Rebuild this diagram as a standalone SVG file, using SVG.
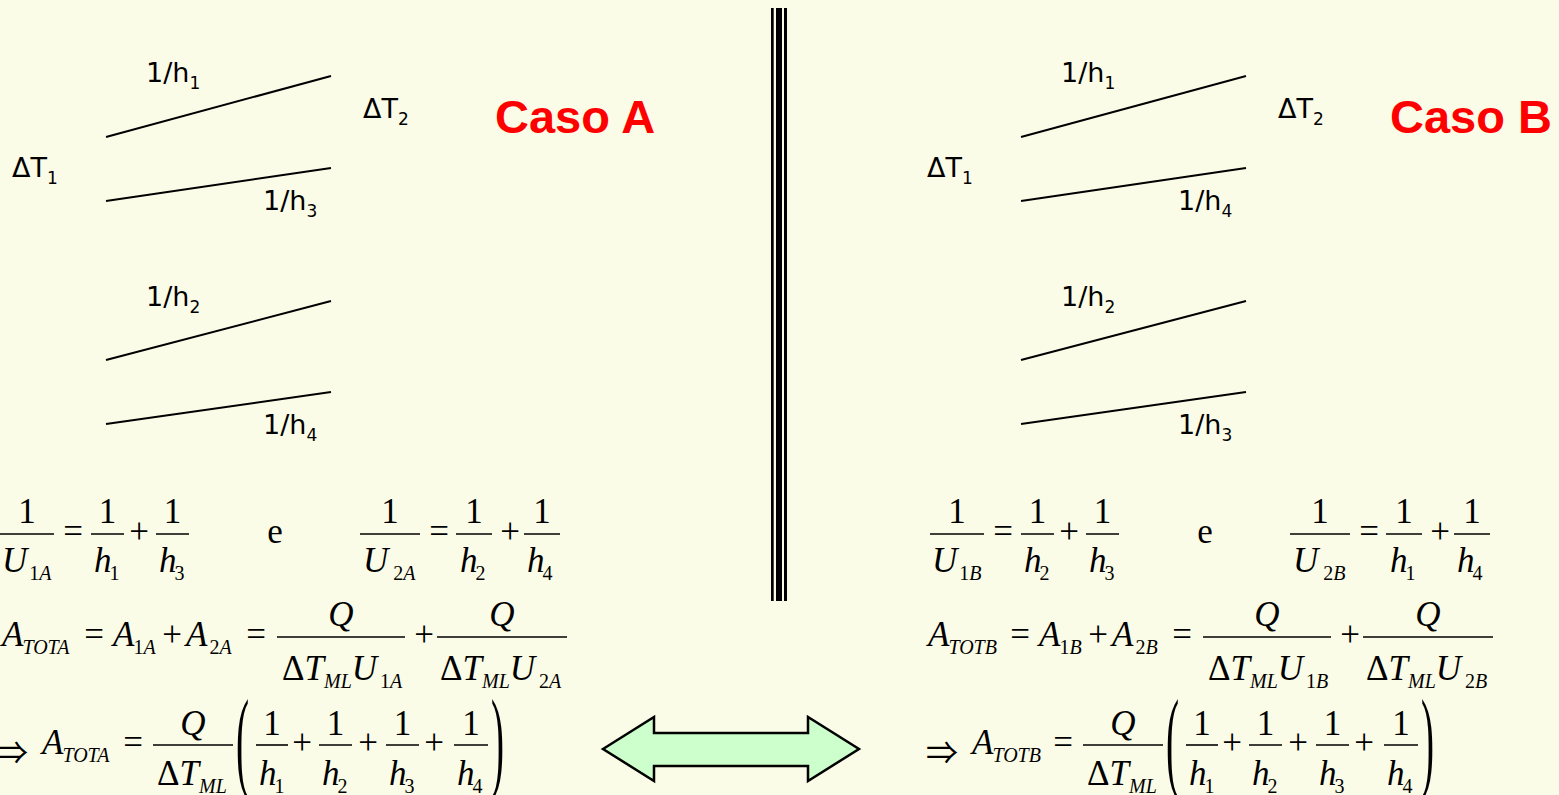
<svg xmlns="http://www.w3.org/2000/svg" width="1559" height="795" viewBox="0 0 1559 795">
<style>
.ln{stroke:#000;stroke-width:2;fill:none;stroke-linecap:butt}
.lb{font-family:"DejaVu Sans",Verdana,sans-serif;font-size:27px;fill:#000}
.ls{font-size:17px}
.cs{font-family:"Liberation Sans",Arial,sans-serif;font-weight:bold;font-size:47px;fill:#FF0000}
.m{font-family:"Liberation Serif","Times New Roman","DejaVu Serif",serif;font-size:35px;fill:#000}
.ar{font-family:"Noto Sans CJK JP","DejaVu Sans",sans-serif;font-size:32px;fill:#000}
.c{text-anchor:middle}
.i{font-style:italic}
.up{font-style:normal}
.s{font-size:20px}
.fb{stroke:#000;stroke-width:1.6}
.par{font-family:"Liberation Serif","Times New Roman",serif;font-size:34px;fill:#000}
</style>
<rect width="1559" height="795" fill="#FBFCE7"/>

<g id="separator" fill="#000">
<rect x="771" y="8" width="2.7" height="593"/>
<rect x="776" y="8" width="6" height="593"/>
<rect x="784" y="8" width="3" height="593"/>
</g>

<g id="connectors">
<line class="ln" x1="106" y1="137" x2="331" y2="76"/>
<line class="ln" x1="106" y1="201" x2="331" y2="168"/>
<line class="ln" x1="106" y1="360" x2="331" y2="301"/>
<line class="ln" x1="106" y1="424" x2="331" y2="392"/>
<line class="ln" x1="1021" y1="137" x2="1246" y2="76"/>
<line class="ln" x1="1021" y1="201" x2="1246" y2="168"/>
<line class="ln" x1="1021" y1="360" x2="1246" y2="301"/>
<line class="ln" x1="1021" y1="424" x2="1246" y2="392"/>
</g>

<g id="labelsA">
<text class="lb" x="146" y="82">1/h<tspan class="ls" dy="7">1</tspan></text>
<text class="lb" x="363" y="118">ΔT<tspan class="ls" dy="7">2</tspan></text>
<text class="lb" x="12" y="177">ΔT<tspan class="ls" dy="7">1</tspan></text>
<text class="lb" x="263" y="210">1/h<tspan class="ls" dy="7">3</tspan></text>
<text class="lb" x="146" y="306">1/h<tspan class="ls" dy="7">2</tspan></text>
<text class="lb" x="263" y="434">1/h<tspan class="ls" dy="7">4</tspan></text>
</g>
<g id="labelsB">
<text class="lb" x="1061" y="82">1/h<tspan class="ls" dy="7">1</tspan></text>
<text class="lb" x="1278" y="118">ΔT<tspan class="ls" dy="7">2</tspan></text>
<text class="lb" x="927" y="177">ΔT<tspan class="ls" dy="7">1</tspan></text>
<text class="lb" x="1178" y="210">1/h<tspan class="ls" dy="7">4</tspan></text>
<text class="lb" x="1061" y="306">1/h<tspan class="ls" dy="7">2</tspan></text>
<text class="lb" x="1178" y="434">1/h<tspan class="ls" dy="7">3</tspan></text>
</g>

<g id="casoA"><text class="cs" x="495" y="133">Caso A</text></g>
<g id="casoB"><text class="cs" x="1390" y="133">Caso B</text></g>

<!-- Row 1 A -->
<g id="eq1A">
<line class="fb" x1="0" y1="534" x2="54" y2="534"/>
<text class="m c" x="27" y="523">1</text>
<text class="m i" x="2" y="572">U<tspan class="s up" dx="2" dy="8">1</tspan><tspan class="s">A</tspan></text>
<text class="m c" x="73" y="543">=</text>
<line class="fb" x1="91" y1="534" x2="124" y2="534"/>
<text class="m c" x="107.5" y="523">1</text>
<text class="m i" x="94" y="572">h<tspan class="s up" dx="-2" dy="8">1</tspan></text>
<text class="m c" x="139" y="543">+</text>
<line class="fb" x1="156" y1="534" x2="189" y2="534"/>
<text class="m c" x="172.5" y="523">1</text>
<text class="m i" x="159" y="572">h<tspan class="s up" dx="-2" dy="8">3</tspan></text>
<text class="m c" x="275" y="543">e</text>
<line class="fb" x1="360" y1="534" x2="420" y2="534"/>
<text class="m c" x="390" y="523">1</text>
<text class="m i" x="363" y="572">U<tspan class="s up" dx="5" dy="8">2</tspan><tspan class="s">A</tspan></text>
<text class="m c" x="439" y="543">=</text>
<line class="fb" x1="456" y1="534" x2="492" y2="534"/>
<text class="m c" x="474" y="523">1</text>
<text class="m i" x="460" y="572">h<tspan class="s up" dx="-2" dy="8">2</tspan></text>
<text class="m c" x="510" y="543">+</text>
<line class="fb" x1="524" y1="534" x2="560" y2="534"/>
<text class="m c" x="542" y="523">1</text>
<text class="m i" x="527" y="572">h<tspan class="s up" dx="-2" dy="8">4</tspan></text>
</g>

<!-- Row 1 B -->
<g id="eq1B" transform="translate(930,0)">
<line class="fb" x1="0" y1="534" x2="54" y2="534"/>
<text class="m c" x="27" y="523">1</text>
<text class="m i" x="2" y="572">U<tspan class="s up" dx="2" dy="8">1</tspan><tspan class="s">B</tspan></text>
<text class="m c" x="73" y="543">=</text>
<line class="fb" x1="91" y1="534" x2="124" y2="534"/>
<text class="m c" x="107.5" y="523">1</text>
<text class="m i" x="94" y="572">h<tspan class="s up" dx="-2" dy="8">2</tspan></text>
<text class="m c" x="139" y="543">+</text>
<line class="fb" x1="156" y1="534" x2="189" y2="534"/>
<text class="m c" x="172.5" y="523">1</text>
<text class="m i" x="159" y="572">h<tspan class="s up" dx="-2" dy="8">3</tspan></text>
<text class="m c" x="275" y="543">e</text>
<line class="fb" x1="360" y1="534" x2="420" y2="534"/>
<text class="m c" x="390" y="523">1</text>
<text class="m i" x="363" y="572">U<tspan class="s up" dx="5" dy="8">2</tspan><tspan class="s">B</tspan></text>
<text class="m c" x="439" y="543">=</text>
<line class="fb" x1="456" y1="534" x2="492" y2="534"/>
<text class="m c" x="474" y="523">1</text>
<text class="m i" x="460" y="572">h<tspan class="s up" dx="-2" dy="8">1</tspan></text>
<text class="m c" x="510" y="543">+</text>
<line class="fb" x1="524" y1="534" x2="560" y2="534"/>
<text class="m c" x="542" y="523">1</text>
<text class="m i" x="527" y="572">h<tspan class="s up" dx="-2" dy="8">4</tspan></text>
</g>

<!-- Row 2 A -->
<g id="eq2A">
<text class="m i" x="2" y="646">A<tspan class="s" dx="-1" dy="8">TOTA</tspan></text>
<text class="m c" x="94" y="646">=</text>
<text class="m i" x="113" y="646">A<tspan class="s up" dx="-1" dy="8">1</tspan><tspan class="s">A</tspan></text>
<text class="m c" x="172" y="646">+</text>
<text class="m i" x="186" y="646">A<tspan class="s up" dx="2" dy="8">2</tspan><tspan class="s">A</tspan></text>
<text class="m c" x="256" y="646">=</text>
<line class="fb" x1="277" y1="637" x2="405" y2="637"/>
<text class="m i c" x="341" y="626">Q</text>
<text class="m" x="282" y="680">Δ<tspan class="i">T</tspan><tspan class="s i" dy="8">ML</tspan><tspan class="i" dy="-8">U</tspan><tspan class="s" dx="3" dy="8">1</tspan><tspan class="s i">A</tspan></text>
<text class="m c" x="424" y="646">+</text>
<line class="fb" x1="437" y1="637" x2="567" y2="637"/>
<text class="m i c" x="502" y="626">Q</text>
<text class="m" x="440" y="680">Δ<tspan class="i">T</tspan><tspan class="s i" dy="8">ML</tspan><tspan class="i" dy="-8">U</tspan><tspan class="s" dx="4" dy="8">2</tspan><tspan class="s i">A</tspan></text>
</g>

<!-- Row 2 B -->
<g id="eq2B" transform="translate(926,0)">
<text class="m i" x="2" y="646">A<tspan class="s" dx="-1" dy="8">TOTB</tspan></text>
<text class="m c" x="94" y="646">=</text>
<text class="m i" x="113" y="646">A<tspan class="s up" dx="-1" dy="8">1</tspan><tspan class="s">B</tspan></text>
<text class="m c" x="172" y="646">+</text>
<text class="m i" x="186" y="646">A<tspan class="s up" dx="2" dy="8">2</tspan><tspan class="s">B</tspan></text>
<text class="m c" x="256" y="646">=</text>
<line class="fb" x1="277" y1="637" x2="405" y2="637"/>
<text class="m i c" x="341" y="626">Q</text>
<text class="m" x="282" y="680">Δ<tspan class="i">T</tspan><tspan class="s i" dy="8">ML</tspan><tspan class="i" dy="-8">U</tspan><tspan class="s" dx="3" dy="8">1</tspan><tspan class="s i">B</tspan></text>
<text class="m c" x="424" y="646">+</text>
<line class="fb" x1="437" y1="637" x2="567" y2="637"/>
<text class="m i c" x="502" y="626">Q</text>
<text class="m" x="440" y="680">Δ<tspan class="i">T</tspan><tspan class="s i" dy="8">ML</tspan><tspan class="i" dy="-8">U</tspan><tspan class="s" dx="4" dy="8">2</tspan><tspan class="s i">B</tspan></text>
</g>

<!-- Row 3 A -->
<g id="eq3A">
<text class="ar" x="-4" y="764">⇒</text>
<text class="m i" x="42" y="754">A<tspan class="s" dx="-1" dy="8">TOTA</tspan></text>
<text class="m c" x="133" y="754">=</text>
<line class="fb" x1="153" y1="745" x2="233" y2="745"/>
<text class="m i c" x="193" y="735">Q</text>
<text class="m" x="157" y="785">Δ<tspan class="i">T</tspan><tspan class="s i" dy="8">ML</tspan></text>
<text class="par" transform="translate(236,777) scale(1.15,3.3)">(</text>
<line class="fb" x1="256" y1="745" x2="288" y2="745"/>
<text class="m c" x="272" y="735">1</text>
<text class="m i" x="259" y="785">h<tspan class="s up" dx="-2" dy="8">1</tspan></text>
<text class="m c" x="302" y="754">+</text>
<line class="fb" x1="319" y1="745" x2="352" y2="745"/>
<text class="m c" x="335.5" y="735">1</text>
<text class="m i" x="322" y="785">h<tspan class="s up" dx="-2" dy="8">2</tspan></text>
<text class="m c" x="368" y="754">+</text>
<line class="fb" x1="386" y1="745" x2="419" y2="745"/>
<text class="m c" x="402.5" y="735">1</text>
<text class="m i" x="389" y="785">h<tspan class="s up" dx="-2" dy="8">3</tspan></text>
<text class="m c" x="434" y="754">+</text>
<line class="fb" x1="454" y1="745" x2="488" y2="745"/>
<text class="m c" x="471" y="735">1</text>
<text class="m i" x="457" y="785">h<tspan class="s up" dx="-2" dy="8">4</tspan></text>
<text class="par" transform="translate(491,777) scale(1.15,3.3)">)</text>
</g>

<!-- Row 3 B -->
<g id="eq3B" transform="translate(930,0)">
<text class="ar" x="-4" y="764">⇒</text>
<text class="m i" x="42" y="754">A<tspan class="s" dx="-1" dy="8">TOTB</tspan></text>
<text class="m c" x="133" y="754">=</text>
<line class="fb" x1="153" y1="745" x2="233" y2="745"/>
<text class="m i c" x="193" y="735">Q</text>
<text class="m" x="157" y="785">Δ<tspan class="i">T</tspan><tspan class="s i" dy="8">ML</tspan></text>
<text class="par" transform="translate(236,777) scale(1.15,3.3)">(</text>
<line class="fb" x1="256" y1="745" x2="288" y2="745"/>
<text class="m c" x="272" y="735">1</text>
<text class="m i" x="259" y="785">h<tspan class="s up" dx="-2" dy="8">1</tspan></text>
<text class="m c" x="302" y="754">+</text>
<line class="fb" x1="319" y1="745" x2="352" y2="745"/>
<text class="m c" x="335.5" y="735">1</text>
<text class="m i" x="322" y="785">h<tspan class="s up" dx="-2" dy="8">2</tspan></text>
<text class="m c" x="368" y="754">+</text>
<line class="fb" x1="386" y1="745" x2="419" y2="745"/>
<text class="m c" x="402.5" y="735">1</text>
<text class="m i" x="389" y="785">h<tspan class="s up" dx="-2" dy="8">3</tspan></text>
<text class="m c" x="434" y="754">+</text>
<line class="fb" x1="454" y1="745" x2="488" y2="745"/>
<text class="m c" x="471" y="735">1</text>
<text class="m i" x="457" y="785">h<tspan class="s up" dx="-2" dy="8">4</tspan></text>
<text class="par" transform="translate(491,777) scale(1.15,3.3)">)</text>
</g>

<g id="arrow">
<polygon points="603,749 654,717 654,733 808,733 808,717 859,749 808,781 808,766 654,766 654,781" fill="#CCFFCC" stroke="#000" stroke-width="2.5" stroke-linejoin="miter"/>
</g>
</svg>
